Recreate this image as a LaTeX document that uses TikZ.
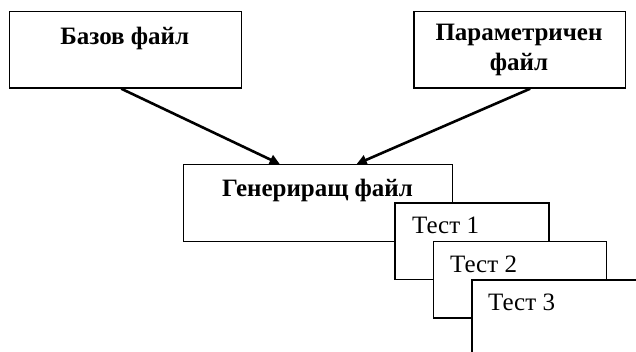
\documentclass[tikz,border=0pt]{standalone}
\usepackage{fontspec}
\setmainfont{Liberation Serif}
\usetikzlibrary{arrows.meta}
\begin{document}
\begin{tikzpicture}[x=1pt,y=-1pt,
  box/.style={draw,line width=1.4pt,fill=white,rectangle,inner sep=0pt,anchor=north west},
  btxt/.style={font=\fontsize{25}{30}\selectfont\bfseries,inner sep=0pt,align=center},
  ttxt/.style={font=\fontsize{25}{30}\selectfont,inner sep=0pt,anchor=west},
  arr/.style={line width=2.6pt,-{Triangle[length=10pt,width=10pt]}}]
\useasboundingbox (0,0) rectangle (636,351);
\clip (0,0) rectangle (636,351);
\node[box,minimum width=231.5pt,minimum height=76.5pt] (A) at (9,10.8) {};
\node[btxt] (At) at (124.7,38) {Базов файл};
\node[box,minimum width=211.5pt,minimum height=76.5pt] (B) at (413.3,10.8) {};
\node[btxt] (Bt) at (519,50) {Параметричен\\файл};
\node[box,minimum width=269pt,minimum height=76.5pt] (G) at (183,164) {};
\node[btxt] (Gt) at (317.5,190) {Генериращ файл};
\node[box,minimum width=154pt,minimum height=76.5pt] (T1) at (394.3,202.3) {};
\node[ttxt] (T1t) at (412,225) {Тест 1};
\node[box,minimum width=173pt,minimum height=76.5pt] (T2) at (432.9,240.7) {};
\node[ttxt] (T2t) at (450,264) {Тест 2};
\node[box,minimum width=200pt,minimum height=100pt] (T3) at (471.4,279.3) {};
\node[ttxt] (T3t) at (488,302) {Тест 3};
\draw[arr] ([xshift=-4.2pt]A.south) -- ([xshift=-38.5pt]G.north);
\draw[arr] ([xshift=10.4pt]B.south) -- ([xshift=38.5pt]G.north);
\end{tikzpicture}
\end{document}
